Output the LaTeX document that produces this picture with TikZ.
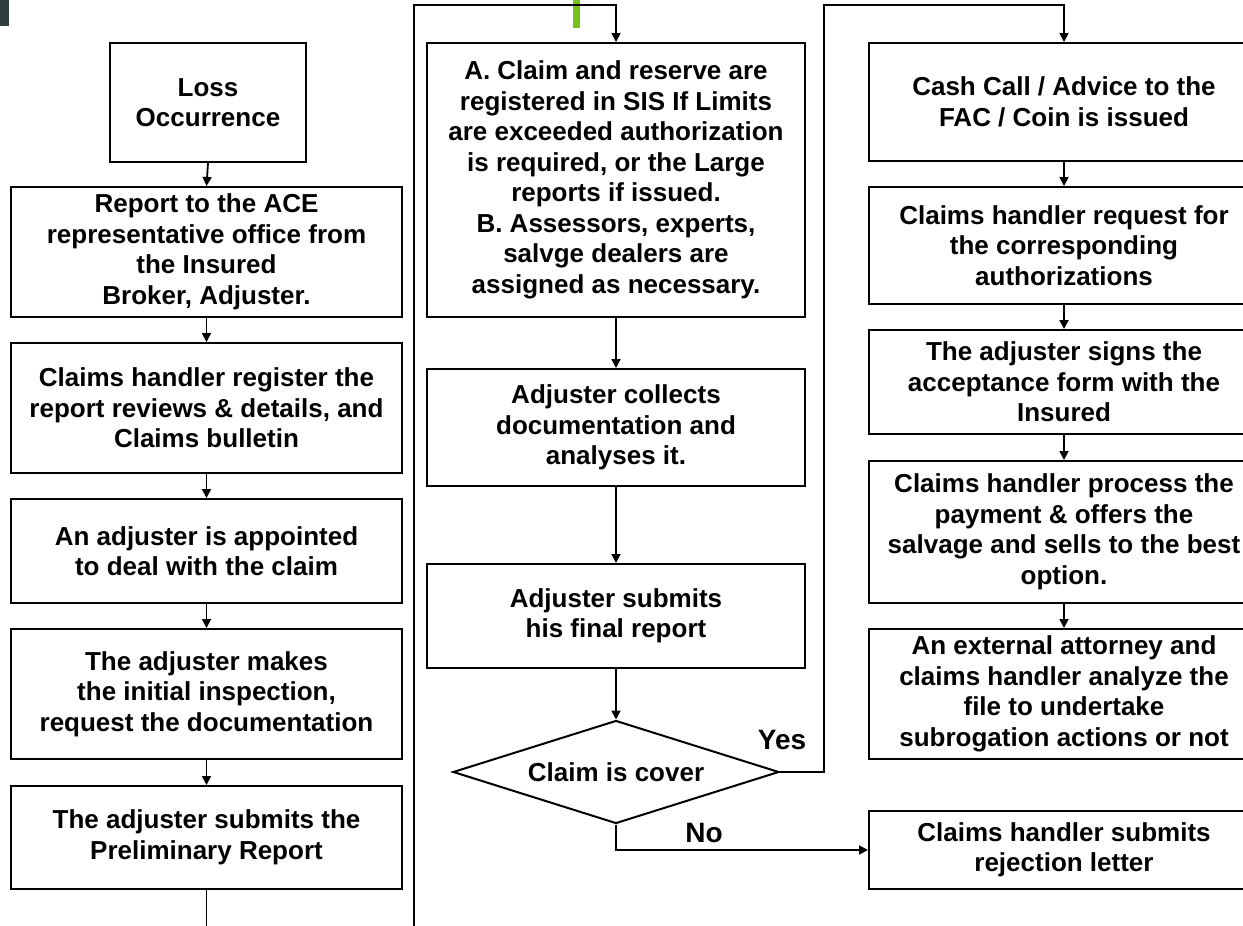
\documentclass[tikz,border=0pt]{standalone}
\usepackage{fontspec}
\setmainfont{Liberation Sans}
\usetikzlibrary{arrows.meta,shapes.geometric}
\definecolor{darksq}{HTML}{2F3D3D}
\definecolor{greenbar}{HTML}{77C11E}
\tikzset{
  flowbox/.style={draw=black, line width=2pt, fill=white, align=center, inner sep=0pt,
    font=\fontsize{26}{30.5}\selectfont\bfseries},
  decide/.style={diamond, draw=black, line width=2pt, fill=white, inner sep=0pt,
    aspect=3.17, minimum width=326pt, minimum height=103pt,
    font=\fontsize{26}{30.5}\selectfont\bfseries},
  conn/.style={line width=1.8pt, draw=black},
  arr/.style={conn, -{Triangle[length=9pt,width=9pt]}},
  lbl/.style={font=\fontsize{28}{32}\selectfont\bfseries, inner sep=0pt}
}
\begin{document}
\begin{tikzpicture}[x=1pt,y=-1pt]
\useasboundingbox (0,0) rectangle (1243,926);
\fill[white] (0,0) rectangle (1243,926);
\fill[darksq] (0,0) rectangle (9,26);
\fill[greenbar] (573,0) rectangle (580,28);

% left column
\node[flowbox, minimum width=196pt, minimum height=119pt] (loss) at (208,102.5) {Loss\\Occurrence};
\node[flowbox, minimum width=391pt, minimum height=130pt] (report) at (206.5,252) {Report to the ACE\\representative office from\\the Insured\\ Broker, Adjuster.};
\node[flowbox, minimum width=391pt, minimum height=130pt] (register) at (206.5,408) {Claims handler register the\\report reviews \& details, and\\Claims bulletin};
\node[flowbox, minimum width=391pt, minimum height=104pt] (appoint) at (206.5,551) {An adjuster is appointed\\to deal with the claim};
\node[flowbox, minimum width=391pt, minimum height=130pt] (inspect) at (206.5,694) {The adjuster makes\\the initial inspection,\\request the documentation};
\node[flowbox, minimum width=391pt, minimum height=103pt] (prelim) at (206.5,837.5) {The adjuster submits the\\Preliminary Report};

% middle column
\node[flowbox, minimum width=378pt, minimum height=274pt] (regA) at (616,180) {A. Claim and reserve are\\registered in SIS If Limits\\are exceeded authorization\\is required, or the Large\\reports if issued.\\B. Assessors, experts,\\salvge dealers are\\assigned as necessary.};
\node[flowbox, minimum width=378pt, minimum height=117pt] (collect) at (616,427.5) {Adjuster collects\\documentation and\\analyses it.};
\node[flowbox, minimum width=378pt, minimum height=104pt] (final) at (616,616) {Adjuster submits\\his final report};
\node[decide] (dia) at (616,772) {Claim is cover};

% right column
\node[flowbox, minimum width=390pt, minimum height=118pt] (cash) at (1064,102) {Cash Call / Advice to the\\FAC / Coin is issued};
\node[flowbox, minimum width=390pt, minimum height=117pt] (req) at (1064,245.5) {Claims handler request for\\the corresponding\\authorizations};
\node[flowbox, minimum width=390pt, minimum height=104pt] (sign) at (1064,382) {The adjuster signs the\\acceptance form with the\\Insured};
\node[flowbox, minimum width=390pt, minimum height=142pt] (process) at (1064,532) {Claims handler process the\\payment \& offers the\\salvage and sells to the best\\option.};
\node[flowbox, minimum width=390pt, minimum height=130pt] (attorney) at (1064,694) {An external attorney and\\claims handler analyze the\\file to undertake\\subrogation actions or not};
\node[flowbox, minimum width=390pt, minimum height=78pt] (reject) at (1064,850) {Claims handler submits\\rejection letter};

% labels
\node[lbl] (yes) at (782,740) {Yes};
\node[lbl] (no) at (704,833) {No};

% coordinates for free ends
\coordinate (lbot) at (206.5,926);
\coordinate (mbot) at (414,926);
\coordinate (mtop) at (414,5);
\coordinate (rtop) at (824,5);

% connectors left
\draw[arr] (loss.south) -- (report.north);
\draw[arr] (report.south) -- (register.north);
\draw[arr] (register.south) -- (appoint.north);
\draw[arr] (appoint.south) -- (inspect.north);
\draw[arr] (inspect.south) -- (prelim.north);
\draw[conn] (prelim.south) -- (lbot);

% connectors middle
\draw[arr] (mbot) -- (mtop) -| (regA.north);
\draw[arr] (regA.south) -- (collect.north);
\draw[arr] (collect.south) -- (final.north);
\draw[arr] (final.south) -- (dia.north);

% decision
\draw[arr] (dia.east) -| (rtop) -| (cash.north);
\draw[arr] (dia.south) |- (reject.west);

% connectors right
\draw[arr] (cash.south) -- (req.north);
\draw[arr] (req.south) -- (sign.north);
\draw[arr] (sign.south) -- (process.north);
\draw[arr] (process.south) -- (attorney.north);
\end{tikzpicture}
\end{document}
